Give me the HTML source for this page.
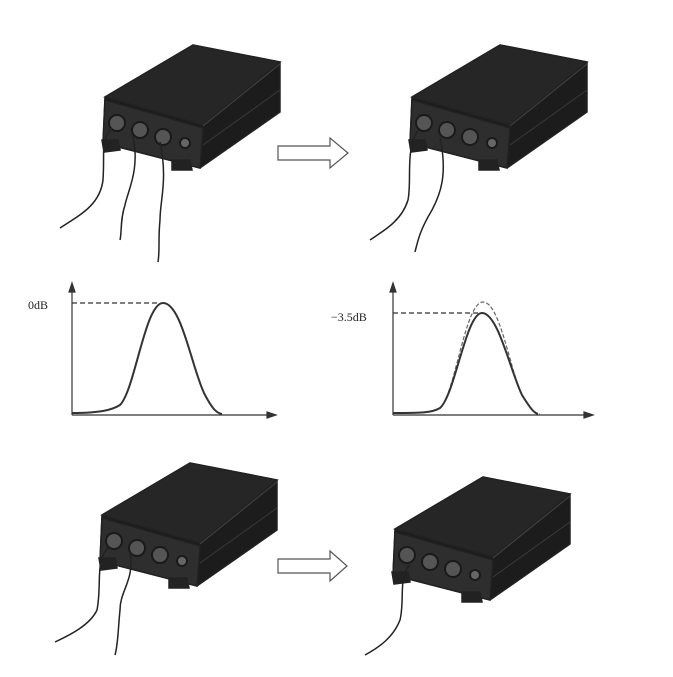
<!DOCTYPE html>
<html><head><style>body{margin:0;background:#fff}svg{display:block}</style></head>
<body>
<svg width="673" height="677" viewBox="0 0 673 677" xmlns="http://www.w3.org/2000/svg" font-family="Liberation Serif, serif">
<defs>
<g id="dev">
  <polygon points="105,97 193,45 280,62 280,112 200,168 103,143" fill="#1c1c1c"/>
  <polygon points="105,97 193,45 280,62 203,125" fill="#262626"/>
  <polygon points="105,100 203,128 200,168 103,143" fill="#2e2e2e"/>
  <line x1="203" y1="126" x2="280" y2="64" stroke="#444" stroke-width="1"/>
  <line x1="203" y1="145" x2="280" y2="90" stroke="#3a3a3a" stroke-width="1"/>
  <polygon points="102,140 118,140 120,150 104,152" fill="#222"/>
  <polygon points="172,160 190,160 192,170 172,170" fill="#222"/>
  <circle cx="117" cy="123" r="8" fill="#555" stroke="#1a1a1a" stroke-width="2"/>
  <circle cx="140" cy="130" r="8" fill="#555" stroke="#1a1a1a" stroke-width="2"/>
  <circle cx="163" cy="137" r="8" fill="#555" stroke="#1a1a1a" stroke-width="2"/>
  <circle cx="185" cy="143" r="5" fill="#666" stroke="#1a1a1a" stroke-width="2"/>
</g>
</defs>
<g fill="none" stroke="#222" stroke-width="1.5">
<use href="#dev"/>
<use href="#dev" transform="translate(307,0)"/>
<use href="#dev" transform="translate(-3,418)"/>
<use href="#dev" transform="translate(290,432)"/>
<!-- cables -->
<path d="M112,128 C100,140 105,150 103,180 C100,205 80,215 60,228"/>
<path d="M133,136 C140,170 128,190 125,205 C120,220 122,232 120,240"/>
<path d="M160,142 C168,180 160,200 160,220 C158,240 160,250 158,262"/>
<path d="M418,130 C405,150 412,180 408,200 C402,220 385,230 370,240"/>
<path d="M440,138 C448,175 440,195 432,210 C420,230 418,240 415,252"/>
<path d="M108,548 C95,560 102,585 97,610 C90,625 70,635 55,642"/>
<path d="M130,552 C135,580 120,590 120,610 C118,630 118,645 115,655"/>
<path d="M410,565 C398,575 405,600 400,620 C393,638 378,648 365,655"/>
</g>
<!-- arrows -->
<polygon points="278,146 330,146 330,138 348,153 330,168 330,160 278,160" fill="#fff" stroke="#555" stroke-width="1.2"/>
<polygon points="278,559 330,559 330,551 347,566 330,581 330,573 278,573" fill="#fff" stroke="#555" stroke-width="1.2"/>
<!-- left graph -->
<g stroke="#333" fill="none" stroke-width="1.2">
<line x1="72" y1="415" x2="72" y2="287"/>
<polygon points="72,283 69,292 75,292" fill="#333"/>
<line x1="72" y1="415" x2="272" y2="415"/>
<polygon points="276,415 267,412 267,418" fill="#333"/>
<line x1="72" y1="303" x2="160" y2="303" stroke-dasharray="5,3"/>
<path d="M72,413 C100,413 112,410 120,405 C135,390 145,303 163,303 C182,303 192,370 205,395 C212,408 216,413 222,414" stroke-width="2"/>
</g>
<text x="28" y="309" font-size="12" fill="#222">0dB</text>
<!-- right graph -->
<g stroke="#333" fill="none" stroke-width="1.2">
<line x1="393" y1="415" x2="393" y2="287"/>
<polygon points="393,283 390,292 396,292" fill="#333"/>
<line x1="393" y1="415" x2="588" y2="415"/>
<polygon points="593,415 584,412 584,418" fill="#333"/>
<line x1="393" y1="313" x2="478" y2="313" stroke-dasharray="5,3"/>
<path d="M393,413 C420,413 432,413 440,408 C455,395 465,302 483,302 C500,302 510,370 522,395 C530,408 534,413 540,414" stroke-dasharray="4,2" stroke="#666"/>
<path d="M393,413 C420,413 432,413 440,408 C455,395 466,313 482,313 C498,313 510,370 522,395 C530,408 534,413 538,414" stroke-width="2"/>
</g>
<text x="331" y="321" font-size="12" fill="#222">−3.5dB</text>
</svg>
</body></html>
